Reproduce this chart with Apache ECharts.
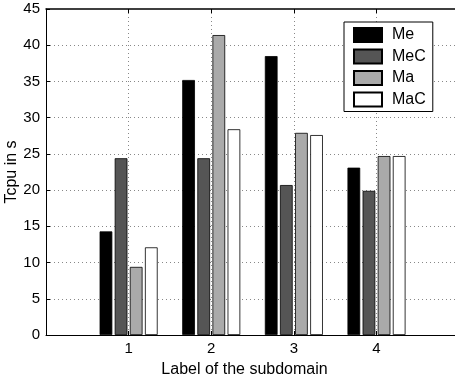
<!DOCTYPE html>
<html>
<head>
<meta charset="utf-8">
<script src="https://cdn.jsdelivr.net/npm/echarts@6/dist/echarts.min.js"></script>
<style>
html, body { margin: 0; padding: 0; background: #fff; }
#main { width: 455px; height: 377px; }
</style>
</head>
<body>
<div id="main"></div>
<script>
// subdomain labels and cpu times (s)
var subdomains = [1, 2, 3, 4];
var me = [14.3, 35.2, 38.5, 23.1];
var meC = [24.4, 24.4, 20.7, 19.9];
var ma = [9.4, 41.4, 27.9, 24.7];
var maC = [12.1, 28.4, 27.6, 24.7];
var yTicks = [0, 5, 10, 15, 20, 25, 30, 35, 40, 45];

var font = "'Liberation Sans', Arial, sans-serif";
var myChart = echarts.init(document.getElementById('main'));

function pairs(vals) {
    var out = [];
    for (var i = 0; i < subdomains.length; i++) {
        out.push([subdomains[i], vals[i]]);
    }
    return out;
}

function barSeries(name, vals, fill) {
    return {
        name: name,
        type: 'bar',
        data: pairs(vals),
        barWidth: 12.7,
        barGap: '19%',
        itemStyle: { color: fill, borderColor: '#000', borderWidth: 0.8 },
        emphasis: { disabled: true }
    };
}

var option = {
    animation: false,
    backgroundColor: '#fff',
    textStyle: { fontFamily: font },
    grid: {
        left: 46, top: 9, bottom: 42, right: 0,
        outerBoundsMode: 'none',
        containLabel: false
    },
    legend: {
        orient: 'vertical',
        left: 344, top: 22,
        itemWidth: 28, itemHeight: 14, itemGap: 5.5,
        padding: [5, 7, 4, 9],
        borderColor: '#000', borderWidth: 1,
        backgroundColor: '#fff',
        icon: 'rect',
        textStyle: { fontFamily: font, fontSize: 16, color: '#000', padding: [0, 0, 0, 5] },
        data: ['Me', 'MeC', 'Ma', 'MaC']
    },
    xAxis: [{
        type: 'value',
        min: 0, max: 4.95, interval: 1,
        name: 'Label of the subdomain',
        nameLocation: 'middle',
        nameGap: 27,
        nameMoveOverlap: false,
        nameTextStyle: { fontFamily: font, fontSize: 16, color: '#000', padding: [0, 12, 0, 0] },
        axisLine: { show: true, onZero: false, lineStyle: { color: '#000', width: 1 } },
        axisTick: { show: true, inside: true, length: 4, lineStyle: { color: '#000' } },
        axisLabel: {
            fontFamily: font, fontSize: 15, color: '#000', margin: 6,
            showMaxLabel: false,
            formatter: function (v) { return subdomains.indexOf(v) >= 0 ? String(v) : ''; }
        },
        splitLine: {
            show: true, showMinLine: false, showMaxLine: false,
            lineStyle: { color: '#888', type: [1, 3], width: 1 }
        }
    }, {
        type: 'value',
        position: 'top',
        min: 0, max: 4.95, interval: 1,
        axisLine: { show: true, onZero: false, lineStyle: { color: '#000', width: 1.5 } },
        axisTick: { show: true, inside: true, length: 4, lineStyle: { color: '#000' } },
        axisLabel: { show: false },
        splitLine: { show: false }
    }],
    yAxis: {
        type: 'value',
        min: yTicks[0], max: yTicks[yTicks.length - 1], interval: 5,
        name: 'Tcpu in s',
        nameLocation: 'middle',
        nameGap: 26,
        nameMoveOverlap: false,
        nameTextStyle: { fontFamily: font, fontSize: 16, color: '#000' },
        axisLine: { show: true, lineStyle: { color: '#000', width: 1 } },
        axisTick: { show: true, inside: true, length: 4, lineStyle: { color: '#000' } },
        axisLabel: { fontFamily: font, fontSize: 15, color: '#000', margin: 6 },
        splitLine: {
            show: true, showMinLine: false, showMaxLine: false,
            lineStyle: { color: '#888', type: [1, 3], width: 1 }
        }
    },
    series: [
        barSeries('Me', me, '#000000'),
        barSeries('MeC', meC, '#555555'),
        barSeries('Ma', ma, '#aaaaaa'),
        barSeries('MaC', maC, '#ffffff')
    ]
};

myChart.setOption(option);
</script>
</body>
</html>
